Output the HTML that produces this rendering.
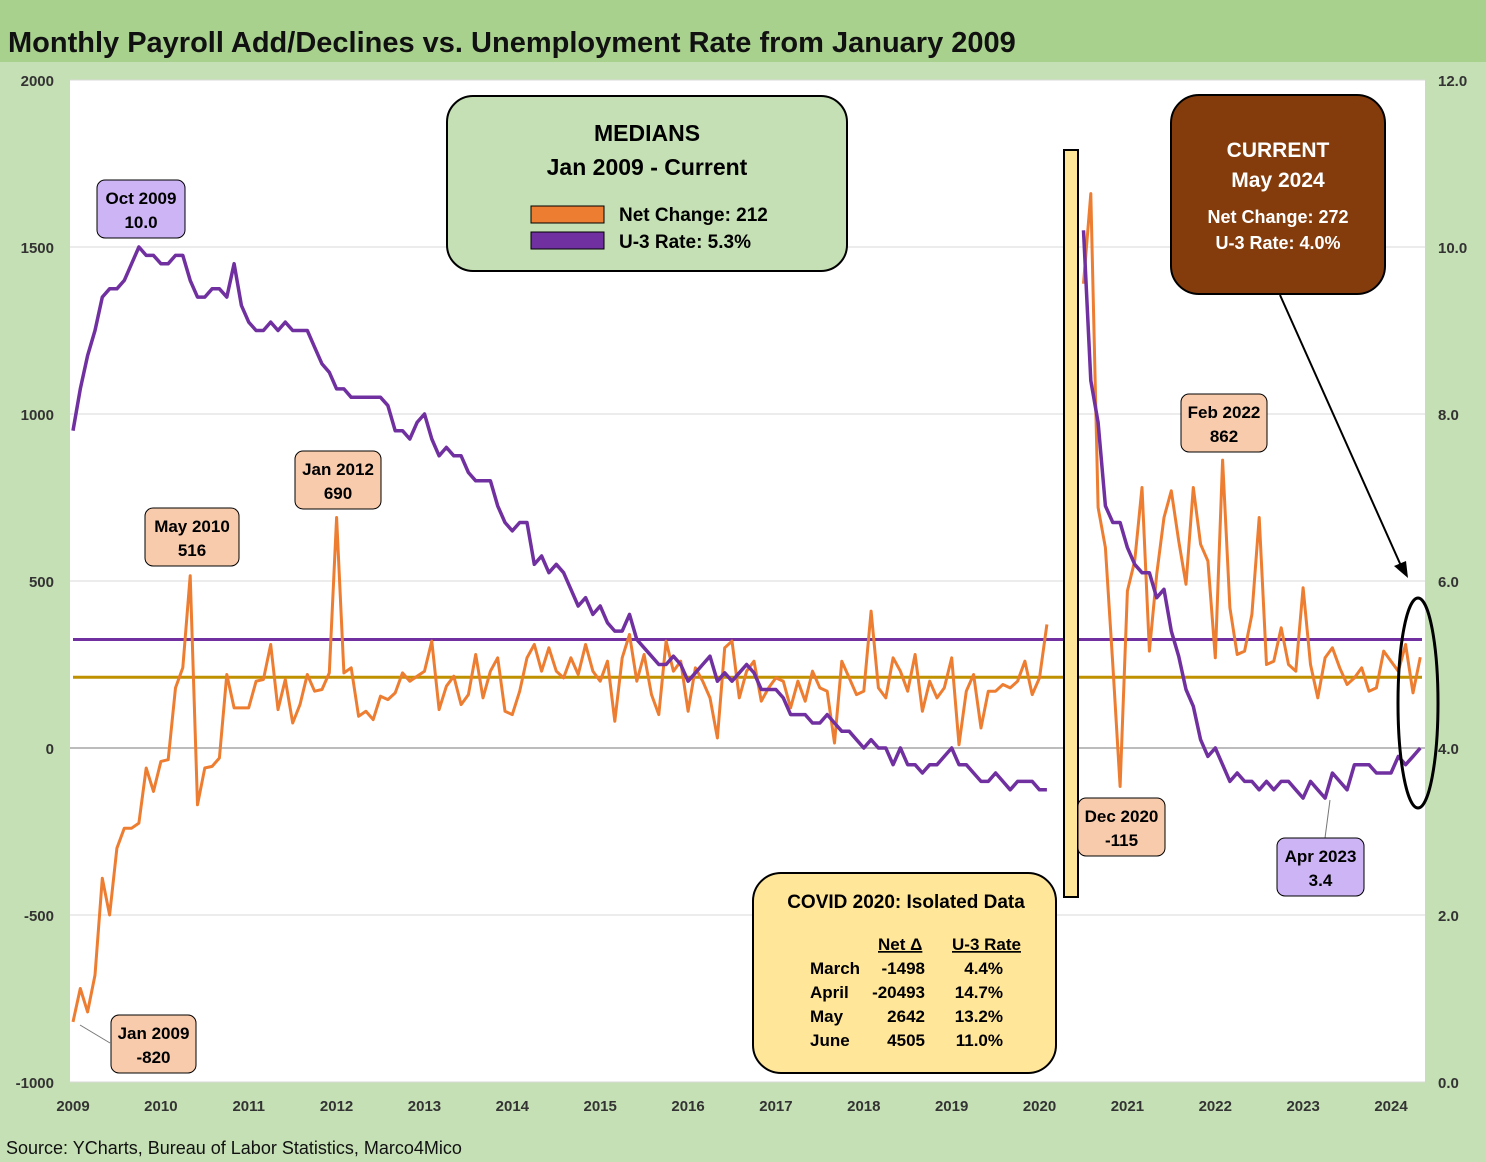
<!DOCTYPE html>
<html><head><meta charset="utf-8"><style>
body{margin:0;background:#fff;font-family:"Liberation Sans",sans-serif}
svg{display:block}
text{font-family:"Liberation Sans",sans-serif}
</style></head><body>
<svg id="chart" width="1486" height="1162">
<rect x="0" y="0" width="1486" height="1162" fill="#c5e0b4"/>
<rect x="0" y="0" width="1486" height="62" fill="#a9d18e"/>
<text x="8" y="52" font-size="29" font-weight="bold" fill="#111">Monthly Payroll Add/Declines vs. Unemployment Rate from January 2009</text>
<rect x="70" y="80" width="1355" height="1002" fill="#fff"/>
<g id="grid"></g><g id="axes"></g><g id="series"></g>
<rect x="1064" y="150" width="14" height="747" fill="#ffe699" stroke="#000" stroke-width="2"/>
<ellipse cx="1418" cy="703" rx="20" ry="105" fill="none" stroke="#000" stroke-width="3"/>
<line x1="1280" y1="295" x2="1402" y2="568" stroke="#000" stroke-width="2"/>
<polygon points="1408,578 1394,566 1406,561" fill="#000"/>
<g>
<rect x="447" y="96" width="400" height="175" rx="26" fill="#c5e0b4" stroke="#000" stroke-width="2"/>
<text x="647" y="141" font-size="23" font-weight="bold" text-anchor="middle">MEDIANS</text>
<text x="647" y="175" font-size="23" font-weight="bold" text-anchor="middle">Jan 2009 - Current</text>
<rect x="531" y="206" width="73" height="17" fill="#ed7d31" stroke="#000"/>
<text x="619" y="221" font-size="19" font-weight="bold">Net Change: 212</text>
<rect x="531" y="232" width="73" height="17" fill="#7030a0" stroke="#000"/>
<text x="619" y="248" font-size="19" font-weight="bold">U-3 Rate: 5.3%</text>
</g>
<g>
<rect x="1171" y="95" width="214" height="199" rx="28" fill="#843c0c" stroke="#000" stroke-width="2"/>
<text x="1278" y="157" font-size="21" font-weight="bold" fill="#fff" text-anchor="middle">CURRENT</text>
<text x="1278" y="187" font-size="21" font-weight="bold" fill="#fff" text-anchor="middle">May 2024</text>
<text x="1278" y="223" font-size="18" font-weight="bold" fill="#fff" text-anchor="middle">Net Change: 272</text>
<text x="1278" y="249" font-size="18" font-weight="bold" fill="#fff" text-anchor="middle">U-3 Rate: 4.0%</text>
</g>
<g>
<rect x="753" y="873" width="303" height="200" rx="28" fill="#ffe699" stroke="#000" stroke-width="2"/>
<text x="906" y="908" font-size="19" font-weight="bold" text-anchor="middle">COVID 2020: Isolated Data</text>
<text x="878" y="950" font-size="17" font-weight="bold" text-decoration="underline">Net  Δ</text>
<text x="952" y="950" font-size="17" font-weight="bold" text-decoration="underline">U-3 Rate</text>
<g font-size="17" font-weight="bold">
<text x="810" y="974">March</text><text x="925" y="974" text-anchor="end">-1498</text><text x="1003" y="974" text-anchor="end">4.4%</text>
<text x="810" y="998">April</text><text x="925" y="998" text-anchor="end">-20493</text><text x="1003" y="998" text-anchor="end">14.7%</text>
<text x="810" y="1022">May</text><text x="925" y="1022" text-anchor="end">2642</text><text x="1003" y="1022" text-anchor="end">13.2%</text>
<text x="810" y="1046">June</text><text x="925" y="1046" text-anchor="end">4505</text><text x="1003" y="1046" text-anchor="end">11.0%</text>
</g></g>
<g id="labels"></g>
<text x="6" y="1154" font-size="18" fill="#111">Source: YCharts, Bureau of Labor Statistics, Marco4Mico</text>
</svg>
<script>
const yearLabels=["2009","2010","2011","2012","2013","2014","2015","2016","2017","2018","2019","2020","2021","2022","2023","2024"];
const leftTicks=[2000,1500,1000,500,0,-500,-1000];
const rightTicks=["12.0","10.0","8.0","6.0","4.0","2.0","0.0"];
const payrolls=[
-820,-720,-790,-680,-390,-500,-300,-240,-240,-225,-60,-130,
-40,-35,180,240,516,-170,-60,-55,-30,220,120,120,
120,200,205,310,115,205,75,130,220,170,175,225,
690,225,240,95,110,85,155,145,165,225,200,215,
230,320,115,185,215,130,160,280,150,230,270,110,
100,170,270,310,230,300,230,210,270,220,310,230,
200,260,80,270,340,200,280,160,100,320,230,260,
110,240,200,150,30,300,320,150,230,260,140,180,
210,200,120,200,140,230,180,170,15,260,210,160,
170,410,180,150,270,230,170,280,110,200,150,180,
270,10,170,220,60,170,170,190,180,200,260,160,
210,370,null,null,null,null,1390,1660,720,600,250,-115,
470,560,780,290,520,690,770,620,490,780,610,560,
270,862,420,280,290,400,690,250,260,360,250,230,
480,250,150,270,300,240,190,210,240,170,180,290,
260,230,310,165,272];
const unemployment=[
7.8,8.3,8.7,9.0,9.4,9.5,9.5,9.6,9.8,10.0,9.9,9.9,
9.8,9.8,9.9,9.9,9.6,9.4,9.4,9.5,9.5,9.4,9.8,9.3,
9.1,9.0,9.0,9.1,9.0,9.1,9.0,9.0,9.0,8.8,8.6,8.5,
8.3,8.3,8.2,8.2,8.2,8.2,8.2,8.1,7.8,7.8,7.7,7.9,
8.0,7.7,7.5,7.6,7.5,7.5,7.3,7.2,7.2,7.2,6.9,6.7,
6.6,6.7,6.7,6.2,6.3,6.1,6.2,6.1,5.9,5.7,5.8,5.6,
5.7,5.5,5.4,5.4,5.6,5.3,5.2,5.1,5.0,5.0,5.1,5.0,
4.8,4.9,5.0,5.1,4.8,4.9,4.8,4.9,5.0,4.9,4.7,4.7,
4.7,4.6,4.4,4.4,4.4,4.3,4.3,4.4,4.3,4.2,4.2,4.1,
4.0,4.1,4.0,4.0,3.8,4.0,3.8,3.8,3.7,3.8,3.8,3.9,
4.0,3.8,3.8,3.7,3.6,3.6,3.7,3.6,3.5,3.6,3.6,3.6,
3.5,3.5,null,null,null,null,10.2,8.4,7.9,6.9,6.7,6.7,
6.4,6.2,6.1,6.1,5.8,5.9,5.4,5.1,4.7,4.5,4.1,3.9,
4.0,3.8,3.6,3.7,3.6,3.6,3.5,3.6,3.5,3.6,3.6,3.5,
3.4,3.6,3.5,3.4,3.7,3.6,3.5,3.8,3.8,3.8,3.7,3.7,
3.7,3.9,3.8,3.9,4.0];
const medianPayroll=212, medianRate=5.3;
const NS="http://www.w3.org/2000/svg";
const xM=i=>73+i*(1318/180);
const yL=v=>748-v*0.334;
const yR=v=>1082-v*83.5;
function mk(tag,attrs,parent){const e=document.createElementNS(NS,tag);for(const k in attrs)e.setAttribute(k,attrs[k]);document.getElementById(parent).appendChild(e);return e;}
leftTicks.forEach((t,i)=>{
 const y=yL(t);
 if(t!==0){const g=mk('line',{x1:70,x2:1425,y1:y,y2:y,stroke:'#d9d9d9','stroke-width':1},'grid');
 
 }
 const a=mk('text',{x:54,y:y+6,'font-size':15,'font-weight':'bold',fill:'#333','text-anchor':'end'},'axes');a.textContent=t;
 
 
 const b=mk('text',{x:1438,y:yR(12-2*i)+6,'font-size':15,'font-weight':'bold',fill:'#333'},'axes');b.textContent=rightTicks[i];
 
 
});
const z=mk('line',{x1:70,x2:1425,y1:yL(0),y2:yL(0),stroke:'#a6a6a6','stroke-width':1.5},'grid');


yearLabels.forEach((l,i)=>{const t=mk('text',{x:xM(i*12),y:1111,'font-size':15,'font-weight':'bold',fill:'#333','text-anchor':'middle'},'axes');t.textContent=l;
 
 });
function path(arr,fy){let d='',pen=false;arr.forEach((v,i)=>{if(v===null){pen=false;return;}d+=(pen?'L':'M')+xM(i).toFixed(1)+','+fy(v).toFixed(1);pen=true;});return d;}
const m2=mk('line',{x1:73,x2:1422,y1:yR(medianRate),y2:yR(medianRate),stroke:'#7030a0','stroke-width':3},'series');


const m1=mk('line',{x1:73,x2:1422,y1:yL(medianPayroll),y2:yL(medianPayroll),stroke:'#bf9000','stroke-width':3},'series');


const p1=mk('path',{d:path(payrolls,yL),fill:'none',stroke:'#ed7d31','stroke-width':3,'stroke-linejoin':'round'},'series');


const p2=mk('path',{d:path(unemployment,yR),fill:'none',stroke:'#7030a0','stroke-width':3.5,'stroke-linejoin':'round'},'series');


const callouts=[
 {x:97,y:180,w:88,t1:'Oct 2009',t2:'10.0',f:'#cdb4f5'},
 {x:145,y:508,w:94,t1:'May 2010',t2:'516',f:'#f8cbad'},
 {x:295,y:451,w:86,t1:'Jan 2012',t2:'690',f:'#f8cbad'},
 {x:1181,y:394,w:86,t1:'Feb 2022',t2:'862',f:'#f8cbad'},
 {x:111,y:1015,w:85,t1:'Jan 2009',t2:'-820',f:'#f8cbad'},
 {x:1078,y:798,w:87,t1:'Dec 2020',t2:'-115',f:'#f8cbad'},
 {x:1277,y:838,w:87,t1:'Apr 2023',t2:'3.4',f:'#cdb4f5'}];
mk('line',{x1:110,x2:80,y1:1043,y2:1025,stroke:'#777'},'labels');
mk('line',{x1:1325,x2:1330,y1:838,y2:800,stroke:'#777'},'labels');
callouts.forEach(c=>{
 const r=mk('rect',{x:c.x,y:c.y,width:c.w,height:58,rx:8,fill:c.f,stroke:'#000','stroke-width':1},'labels');
 
 
 const a=mk('text',{x:c.x+c.w/2,y:c.y+24,'font-size':17,'font-weight':'bold','text-anchor':'middle'},'labels');a.textContent=c.t1;
 const b=mk('text',{x:c.x+c.w/2,y:c.y+48,'font-size':17,'font-weight':'bold','text-anchor':'middle'},'labels');b.textContent=c.t2;
});
</script>
</body></html>
